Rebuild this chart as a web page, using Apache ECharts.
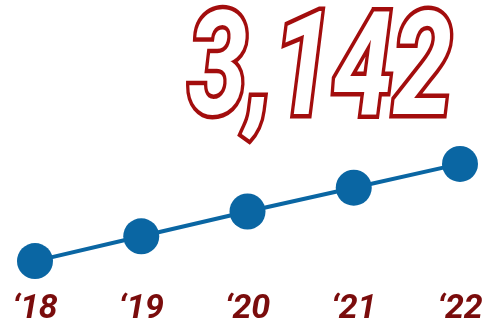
<!DOCTYPE html>
<html>
<head>
<meta charset="utf-8">
<script src="https://cdn.jsdelivr.net/npm/echarts@6/dist/echarts.min.js"></script>
<style>
html, body { margin: 0; padding: 0; background: #fff; }
#chart { width: 491px; height: 326px; }
</style>
</head>
<body>
<div id="chart"></div>
<script>
// years and relative values
const years = ['\u201818', '\u201819', '\u201820', '\u201821', '\u201822']
const values = [10, 35, 60, 84, 108]
const headline = '3,142'

const chart = echarts.init(document.getElementById('chart'))

const option = {
    backgroundColor: '#ffffff',
    animation: false,
    grid: {
        left: 35,
        right: 31,
        top: 152,
        bottom: 54
    },
    xAxis: {
        type: 'category',
        data: years,
        boundaryGap: false,
        axisLine: { show: false },
        axisTick: { show: false },
        splitLine: { show: false },
        axisLabel: {
            margin: 21,
            color: '#7a0c0c',
            fontFamily: 'Roboto',
            fontWeight: 'bold',
            fontStyle: 'italic',
            fontSize: 34
        }
    },
    yAxis: {
        type: 'value',
        min: 0,
        max: 120,
        show: false
    },
    series: [{
        type: 'line',
        data: values,
        symbol: 'circle',
        symbolSize: 36,
        lineStyle: { color: '#0a66a3', width: 4 },
        itemStyle: { color: '#0a66a3' }
    }],
    graphic: [{
        type: 'text',
        x: 188,
        y: 5,
        scaleX: 0.74,
        style: {
            text: headline,
            fontFamily: 'Roboto',
            fontWeight: 'bold',
            fontStyle: 'italic',
            fontSize: 145,
            fill: '#ffffff',
            stroke: '#a30d0d',
            lineWidth: 9
        }
    }]
}
chart.setOption(option)
</script>
</body>
</html>
